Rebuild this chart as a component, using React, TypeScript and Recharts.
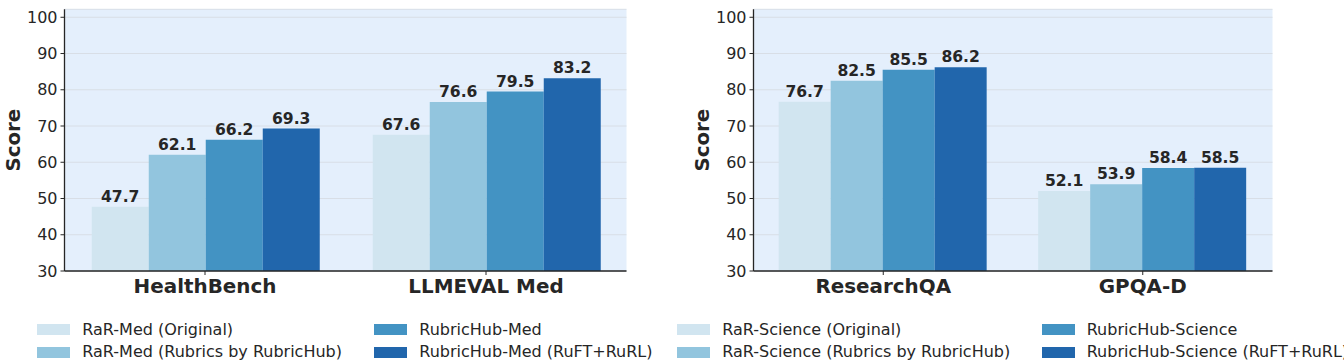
import React from 'react';
import { BarChart, Bar, XAxis, YAxis, CartesianGrid, LabelList } from 'recharts';

const medCategories = ['HealthBench', 'LLMEVAL Med'];
const medNames = ['RaR-Med (Original)', 'RaR-Med (Rubrics by RubricHub)', 'RubricHub-Med', 'RubricHub-Med (RuFT+RuRL)'];
const medOriginal = [47.7, 67.6];
const medRubrics = [62.1, 76.6];
const medHub = [66.2, 79.5];
const medRuft = [69.3, 83.2];

const sciCategories = ['ResearchQA', 'GPQA-D'];
const sciNames = ['RaR-Science (Original)', 'RaR-Science (Rubrics by RubricHub)', 'RubricHub-Science', 'RubricHub-Science (RuFT+RuRL)'];
const sciOriginal = [76.7, 52.1];
const sciRubrics = [82.5, 53.9];
const sciHub = [85.5, 58.4];
const sciRuft = [86.2, 58.5];

const yTicks = [30, 40, 50, 60, 70, 80, 90, 100];
const yDomain = [30, 102.2];
const colors = ['#d1e5f0', '#92c5de', '#4393c3', '#2166ac'];

const FONT = "'DejaVu Sans', sans-serif";
const TEXT = '#262626';

function buildRows(cats: string[], series: number[][]) {
  return cats.map((c, i) => {
    const row: any = { name: c };
    series.forEach((s, k) => { row['s' + k] = s[i]; });
    return row;
  });
}

const ScoreLabel = (props: any) => {
  const vb = props.viewBox || {};
  const cx = (vb.x || 0) + 13.3;
  const cy = (vb.y || 0) + (vb.height || 0) / 2;
  return (
    <text x={cx} y={cy} transform={`rotate(-90 ${cx} ${cy})`} textAnchor="middle" dominantBaseline="central"
      fontFamily={FONT} fontSize={19.8} fontWeight="bold" fill={TEXT}>Score</text>
  );
};

function Panel({ cats, series, width, rightMargin }: { cats: string[]; series: number[][]; width: number; rightMargin: number }) {
  const data = buildRows(cats, series);
  return (
    <BarChart width={width} height={300} data={data} margin={{ top: 9.3, right: rightMargin, bottom: 0, left: 0 }}
      barCategoryGap="9.7%" barGap={0}>
      <CartesianGrid vertical={false} fill="#e4effc" stroke="#d8dee6" strokeWidth={1} />
      <XAxis dataKey="name" height={29} tickSize={4} tickMargin={4}
        axisLine={{ stroke: TEXT, strokeWidth: 1.3 }} tickLine={{ stroke: TEXT }}
        tick={{ fontFamily: FONT, fontSize: 19.9, fontWeight: 'bold', fill: TEXT }} />
      <YAxis width={64.5} domain={yDomain} ticks={yTicks} allowDataOverflow type="number" tickSize={4} tickMargin={3}
        axisLine={{ stroke: TEXT, strokeWidth: 1.3 }} tickLine={{ stroke: TEXT }}
        tick={{ fontFamily: FONT, fontSize: 16, fill: TEXT }}
        label={{ content: ScoreLabel }} />
      {series.map((_, k) => (
        <Bar key={k} dataKey={'s' + k} fill={colors[k]} isAnimationActive={false}>
          <LabelList dataKey={'s' + k} position="top" offset={5}
            formatter={(v: any) => Number(v).toFixed(1)}
            style={{ fontFamily: FONT, fontSize: 15.6, fontWeight: 'bold', fill: TEXT }} />
        </Bar>
      ))}
    </BarChart>
  );
}

function LegendColumn({ names, idx, left }: { names: string[]; idx: number[]; left: number }) {
  return (
    <>
      {idx.map((k, r) => (
        <div key={k} style={{ position: 'absolute', left, top: 324.3 + r * 22.4, height: 11, display: 'block' }}>
          <div style={{ position: 'absolute', left: 0, top: 0, width: 33, height: 11, background: colors[k] }} />
          <div style={{ position: 'absolute', left: 45, top: 5.6, transform: 'translateY(-50%)', whiteSpace: 'nowrap',
            fontFamily: FONT, fontSize: 16, color: TEXT, lineHeight: '18px' }}>{names[k]}</div>
        </div>
      ))}
    </>
  );
}

export default function App() {
  return (
    <div style={{ position: 'absolute', left: 0, top: 0, width: 1344, height: 363, background: '#ffffff', overflow: 'hidden' }}>
      <div style={{ position: 'absolute', left: 0, top: 0 }}>
        <Panel cats={medCategories} series={[medOriginal, medRubrics, medHub, medRuft]} width={660} rightMargin={33.5} />
      </div>
      <div style={{ position: 'absolute', left: 688.8, top: 0 }}>
        <Panel cats={sciCategories} series={[sciOriginal, sciRubrics, sciHub, sciRuft]} width={655} rightMargin={71.5} />
      </div>
      <LegendColumn names={medNames} idx={[0, 1]} left={37.3} />
      <LegendColumn names={medNames} idx={[2, 3]} left={374.3} />
      <LegendColumn names={sciNames} idx={[0, 1]} left={677.3} />
      <LegendColumn names={sciNames} idx={[2, 3]} left={1041.7} />
    </div>
  );
}
